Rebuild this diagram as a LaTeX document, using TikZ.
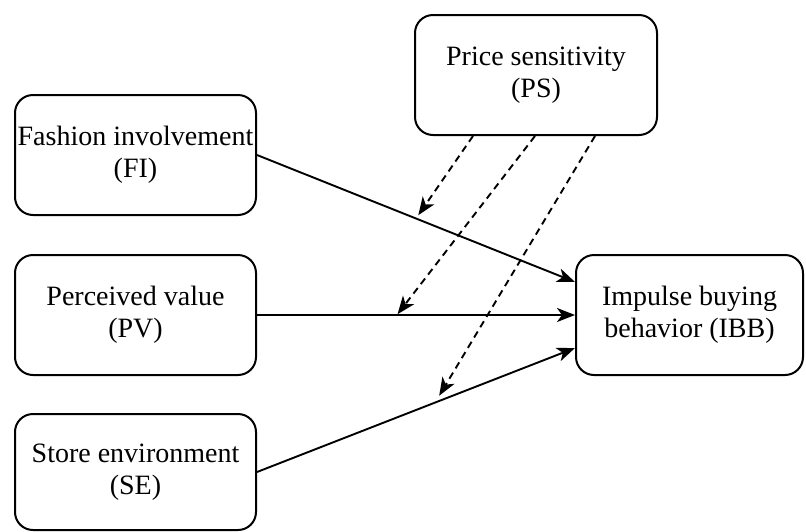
\documentclass[tikz,border=0pt]{standalone}
\usepackage{fontspec}
\setmainfont{Liberation Serif}
\usetikzlibrary{arrows.meta}

\begin{document}
\begin{tikzpicture}[
  x=1pt, y=-1pt,
  every node/.style={font=\fontsize{28}{32}\selectfont},
  factor/.style={draw, line width=2pt, rounded corners=18pt,
                 minimum width=#1, minimum height=120pt, align=center,
                 inner sep=0pt},
  arrow/.style={-{Stealth[length=18pt, width=14pt, inset=5pt]}, line width=1.9pt},
  moderate/.style={arrow, dashed, dash pattern=on 7pt off 5pt, shorten >=4pt},
]
\useasboundingbox (0,0) rectangle (806,531);

% ── Factors ──
\node[factor=241pt] (fi) at (135.5,155) {Fashion involvement\\(FI)};
\node[factor=241pt] (pv) at (135.5,315) {Perceived value\\(PV)};
\node[factor=241pt, minimum height=116pt] (se) at (135.5,472) {Store environment\\(SE)};

% ── Moderator and outcome ──
\node[factor=242pt] (ps) at (536,75) {Price sensitivity\\(PS)};
\node[factor=227pt] (ibb) at (689.5,315) {Impulse buying\\behavior (IBB)};

% ── Direct effects ──
\draw[arrow] (fi.east) -- coordinate[pos=0.5] (fimid) ([yshift=33pt]ibb.west);
\draw[arrow] (pv.east) -- coordinate[pos=0.44] (pvmid) (ibb.west);
\draw[arrow] (se.east) -- coordinate[pos=0.56] (semid) ([yshift=-33pt]ibb.west);

% ── Moderating effects ──
\draw[moderate] ([xshift=-63pt]ps.south) -- (fimid);
\draw[moderate, shorten >=1pt] ([xshift=-1pt]ps.south) -- (pvmid);
\draw[moderate, shorten >=8pt] ([xshift=59pt]ps.south) -- (semid);

\end{tikzpicture}
\end{document}
